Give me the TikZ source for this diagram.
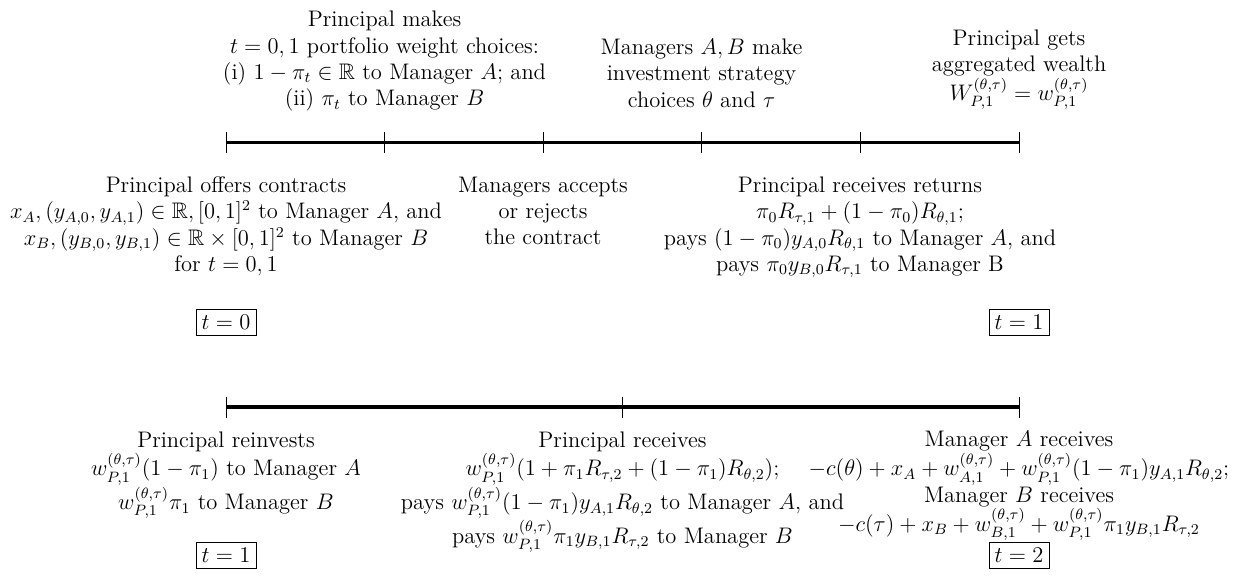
\documentclass[tikz,border=0pt]{standalone}
\usepackage{amsmath,amssymb}
\begin{document}
\begin{tikzpicture}[x=0.5333pt,y=-0.5333pt,
  txt/.style={align=center,anchor=north,inner sep=0pt,font=\fontsize{12}{14}\selectfont},
  tlbox/.style={draw,line width=0.4pt,inner sep=3pt,font=\fontsize{12}{14}\selectfont},
  tline/.style={line width=2pt},
  tick/.style={line width=0.5pt}]
\useasboundingbox (0,0) rectangle (1238,575);
% top timeline
\coordinate (a0) at (226,142.5); \coordinate (a1) at (384.5,142.5); \coordinate (a2) at (543,142.5);
\coordinate (a3) at (701.5,142.5); \coordinate (a4) at (860,142.5); \coordinate (a5) at (1019,142.5);
\draw[tline] (a0) -- (a5);
\foreach \c in {a0,a1,a2,a3,a4,a5}{\draw[tick] ([yshift=5.6pt]\c) -- ([yshift=-5.6pt]\c);}
% bottom timeline
\coordinate (b0) at (226,407); \coordinate (b1) at (622.5,407); \coordinate (b2) at (1019,407);
\draw[tline] (b0) -- (b2);
\foreach \c in {b0,b1,b2}{\draw[tick] ([yshift=5.6pt]\c) -- ([yshift=-5.6pt]\c);}
% top texts
\node[txt] (n1) at (384.5,11) {Principal makes\\ $t=0,1$ portfolio weight choices:\\ (i) $1-\pi_t\in\mathbb{R}$ to Manager $A$; and\\ (ii) $\pi_t$ to Manager $B$};
\node[txt] (n2) at (701.5,38.7) {Managers $A,B$ make\\ investment strategy\\ choices $\theta$ and $\tau$};
\node[txt] (n3) at (1019,29.4) {Principal gets\\ aggregated wealth\\ $W_{P,1}^{(\theta,\tau)}=w_{P,1}^{(\theta,\tau)}$};
\node[txt] (n4) at (226,176.5) {Principal offers contracts\\ $x_A,(y_{A,0},y_{A,1})\in\mathbb{R},[0,1]^2$ to Manager $A$, and\\ $x_B,(y_{B,0},y_{B,1})\in\mathbb{R}\times[0,1]^2$ to Manager $B$\\ for $t=0,1$};
\node[txt] (n5) at (543,176.7) {Managers accepts\\ or rejects\\ the contract};
\node[txt] (n6) at (860,176.7) {Principal receives returns\\ $\pi_0R_{\tau,1}+(1-\pi_0)R_{\theta,1}$;\\ pays $(1-\pi_0)y_{A,0}R_{\theta,1}$ to Manager $A$, and\\ pays $\pi_0y_{B,0}R_{\tau,1}$ to Manager B};
\node[tlbox] (t0) at (226,322) {$t=0$};
\node[tlbox] (t1) at (1019,322) {$t=1$};
% bottom texts
\node[txt] (n7) at (226,431) {Principal reinvests\\ $w_{P,1}^{(\theta,\tau)}(1-\pi_1)$ to Manager $A$\\ $w_{P,1}^{(\theta,\tau)}\pi_1$ to Manager $B$};
\node[txt] (n8) at (622.5,431) {Principal receives\\ $w_{P,1}^{(\theta,\tau)}(1+\pi_1R_{\tau,2}+(1-\pi_1)R_{\theta,2})$;\\ pays $w_{P,1}^{(\theta,\tau)}(1-\pi_1)y_{A,1}R_{\theta,2}$ to Manager $A$, and\\ pays $w_{P,1}^{(\theta,\tau)}\pi_1y_{B,1}R_{\tau,2}$ to Manager $B$};
\node[txt] (n9) at (1019,431) {Manager $A$ receives\\ $-c(\theta)+x_A+w_{A,1}^{(\theta,\tau)}+w_{P,1}^{(\theta,\tau)}(1-\pi_1)y_{A,1}R_{\theta,2}$;\\ Manager $B$ receives\\ $-c(\tau)+x_B+w_{B,1}^{(\theta,\tau)}+w_{P,1}^{(\theta,\tau)}\pi_1y_{B,1}R_{\tau,2}$};
\node[tlbox] (t2) at (226,555) {$t=1$};
\node[tlbox] (t3) at (1019,555) {$t=2$};
\end{tikzpicture}
\end{document}
